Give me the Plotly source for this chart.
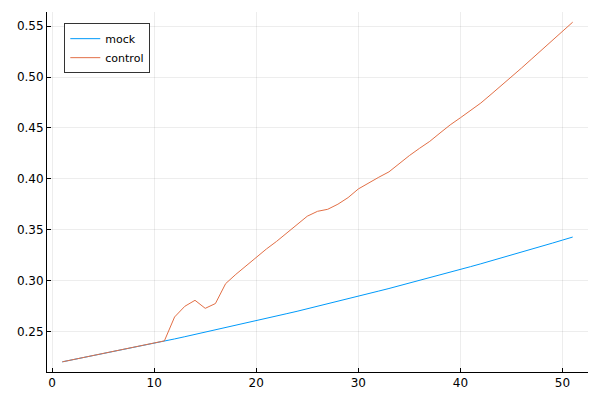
import plotly.graph_objects as go

steps = list(range(1, 52))
mock = [0.2200, 0.2220, 0.2239, 0.2259, 0.2279, 0.2300, 0.2320, 0.2341, 0.2362, 0.2383,
        0.2404, 0.2425, 0.2447, 0.2469, 0.2491, 0.2513, 0.2535, 0.2558, 0.2581, 0.2604,
        0.2627, 0.2650, 0.2674, 0.2697, 0.2721, 0.2746, 0.2770, 0.2795, 0.2820, 0.2845,
        0.2870, 0.2896, 0.2921, 0.2947, 0.2974, 0.3000, 0.3027, 0.3054, 0.3081, 0.3108,
        0.3136, 0.3164, 0.3192, 0.3221, 0.3249, 0.3278, 0.3307, 0.3337, 0.3367, 0.3397,
        0.3427]
control = [0.2200, 0.2220, 0.2239, 0.2259, 0.2279, 0.2300, 0.2320, 0.2341, 0.2362, 0.2383,
           0.2406, 0.2641, 0.2746, 0.2805, 0.2726, 0.2773, 0.2969, 0.3060, 0.3145, 0.3231,
           0.3310, 0.3385, 0.3469, 0.3555, 0.3632, 0.3680, 0.3700, 0.3750, 0.3815, 0.3900,
           0.3960, 0.4015, 0.4068, 0.4150, 0.4228, 0.4300, 0.4368, 0.4450, 0.4530, 0.4600,
           0.4675, 0.4745, 0.4830, 0.4915, 0.5000, 0.5090, 0.5180, 0.5272, 0.5365, 0.5450,
           0.5540]
x_ticks = [0, 10, 20, 30, 40, 50]
y_ticks = [0.25, 0.30, 0.35, 0.40, 0.45, 0.50, 0.55]

fig = go.Figure()
fig.add_trace(go.Scatter(x=steps, y=mock, mode="lines", name="mock",
                         line=dict(color="#009AFA", width=1)))
fig.add_trace(go.Scatter(x=steps, y=control, mode="lines", name="control",
                         line=dict(color="#E26F46", width=1)))

axis_common = dict(showgrid=True, gridcolor="rgba(0,0,0,0.07)", gridwidth=1,
                   zeroline=False, showline=True, linecolor="black", linewidth=1,
                   ticks="inside", ticklen=4, tickcolor="black", automargin=False,
                   tickfont=dict(family="DejaVu Sans", size=12, color="black"))

# page body has an 8px margin, so the figure is sized to end at the 600x400 window edge
fig.update_layout(
    width=592, height=392,
    margin=dict(l=39, r=12, t=4, b=28, autoexpand=False),
    paper_bgcolor="white", plot_bgcolor="white",
    xaxis=dict(range=[-0.5, 52.5], tickvals=x_ticks, **axis_common),
    yaxis=dict(range=[0.21, 0.564], tickvals=y_ticks, tickformat=".2f", **axis_common),
    legend=dict(x=0.032, y=0.969, xanchor="left", yanchor="top",
                bordercolor="#333333", borderwidth=1, bgcolor="white",
                font=dict(family="DejaVu Sans", size=11, color="black"),
                itemwidth=30, tracegroupgap=0),
    showlegend=True,
)

fig.write_html("out.html")
